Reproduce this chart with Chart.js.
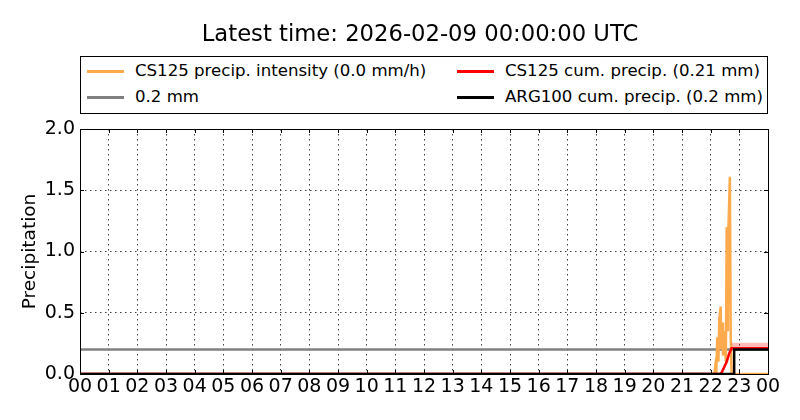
<!DOCTYPE html>
<html>
<head>
<meta charset="utf-8">
<script src="https://cdn.jsdelivr.net/npm/chart.js@4.4.1/dist/chart.umd.min.js"></script>
<style>
    body { margin: 0; background: #fff; font-family: "DejaVu Sans", sans-serif; }
    #wrap { position: relative; width: 800px; height: 420px; }
    #chart { position: absolute; left: 0; top: 0; }
    #title { position: absolute; left: 0; width: 840px; top: 20px; text-align: center; font-size: 22.7px; color: #000; }
    #legend { position: absolute; left: 80px; top: 56px; width: 686px; height: 56px; border: 1px solid #000; background: #fff; font-size: 16.6px; }
    .item { position: absolute; height: 20px; line-height: 20px; white-space: nowrap; }
    .item span.sw { position: absolute; left: 0; top: 9px; width: 37px; height: 3px; }
    .item span.tx { position: absolute; left: 48px; top: 0; }
</style>
</head>
<body>
<div id="wrap">
    <canvas id="chart" width="800" height="420"></canvas>
    <div id="title">Latest time: 2026-02-09 00:00:00 UTC</div>
    <div id="legend"></div>
</div>
<script>
// Tick labels (hours of day)
const xTickLabels = ['00', '01', '02', '03', '04', '05', '06', '07', '08', '09', '10', '11',
    '12', '13', '14', '15', '16', '17', '18', '19', '20', '21', '22', '23', '00'];
const yTicks = [0, 0.5, 1.0, 1.5, 2.0];

// CS125 precip. intensity (mm/h), time in hours
const intensityTime = [0, 22.13, 22.17, 22.2, 22.23, 22.27, 22.3, 22.35, 22.37, 22.4, 22.43, 22.47, 22.5, 22.53, 22.56, 22.6, 22.62, 22.67, 22.7, 22.73, 24];
const intensityValue = [0, 0, 0.08, 0.05, 0.3, 0.1, 0.45, 0.55, 0.2, 0.42, 0.15, 0.35, 0.25, 0.1, 1.2, 0.35, 1.19, 1.61, 0.3, 0, 0];

// CS125 cumulative precip. (mm)
const cumTime = [0, 22.32, 22.38, 22.44, 22.56, 22.65, 22.73, 24];
const cumValue = [0, 0, 0.01, 0.04, 0.1, 0.17, 0.21, 0.21];

// shaded band above the CS125 cumulative value
const bandTime = [22.73, 24];
const bandUpper = [0.255, 0.255];
const bandLower = [0.21, 0.21];

// ARG100 cumulative precip. (mm)
const argTime = [0, 22.82, 22.82, 24];
const argValue = [0, 0, 0.2, 0.2];

// 0.2 mm reference line
const refTime = [0, 24];
const refValue = [0.2, 0.2];

const legendItems = [
    { text: 'CS125 precip. intensity (0.0 mm/h)', color: 'rgb(255,170,77)', col: 0, row: 0 },
    { text: '0.2 mm', color: 'rgb(128,128,128)', col: 0, row: 1 },
    { text: 'CS125 cum. precip. (0.21 mm)', color: 'rgb(255,0,0)', col: 1, row: 0 },
    { text: 'ARG100 cum. precip. (0.2 mm)', color: 'rgb(0,0,0)', col: 1, row: 1 }
];

function toPoints(xs, ys) {
    return xs.map((x, i) => ({ x: x, y: ys[i] }));
}

// build legend
const legendEl = document.getElementById('legend');
legendItems.forEach(item => {
    const div = document.createElement('div');
    div.className = 'item';
    div.style.left = (item.col === 0 ? 6 : 376) + 'px';
    div.style.top = (item.row === 0 ? 4 : 30) + 'px';
    div.innerHTML = '<span class="sw" style="background:' + item.color + '"></span><span class="tx"></span>';
    div.querySelector('.tx').textContent = item.text;
    legendEl.appendChild(div);
});

// inward tick marks and full frame, like the classic matplotlib look
const framePlugin = {
    id: 'frame',
    afterDraw(chart) {
        const ctx = chart.ctx;
        const a = chart.chartArea;
        const xs = chart.scales.x;
        const ys = chart.scales.y;
        ctx.save();
        ctx.strokeStyle = '#000';
        ctx.lineWidth = 1;
        ctx.beginPath();
        xs.ticks.forEach(t => {
            const px = Math.round(xs.getPixelForValue(t.value)) + 0.5;
            ctx.moveTo(px, a.bottom); ctx.lineTo(px, a.bottom - 4);
            ctx.moveTo(px, a.top); ctx.lineTo(px, a.top + 4);
        });
        ys.ticks.forEach(t => {
            const py = Math.round(ys.getPixelForValue(t.value)) + 0.5;
            ctx.moveTo(a.left, py); ctx.lineTo(a.left + 4, py);
            ctx.moveTo(a.right, py); ctx.lineTo(a.right - 4, py);
        });
        ctx.stroke();
        ctx.strokeRect(Math.round(a.left) + 0.5, Math.round(a.top) + 0.5,
            Math.round(a.right - a.left), Math.round(a.bottom - a.top));
        ctx.restore();
    }
};

const lineBase = { pointRadius: 0, borderWidth: 2.5, fill: false, tension: 0 };

new Chart(document.getElementById('chart'), {
    type: 'line',
    data: {
        datasets: [
            Object.assign({}, lineBase, { label: 'ARG100', data: toPoints(argTime, argValue), borderColor: '#000', order: 0 }),
            Object.assign({}, lineBase, { label: 'CS125 cum', data: toPoints(cumTime, cumValue), borderColor: 'rgb(255,0,0)', order: 1 }),
            Object.assign({}, lineBase, { label: 'band up', data: toPoints(bandTime, bandUpper), borderWidth: 0, borderColor: 'rgba(0,0,0,0)', backgroundColor: 'rgba(255,0,0,0.27)', fill: '+1', order: 2 }),
            Object.assign({}, lineBase, { label: 'band low', data: toPoints(bandTime, bandLower), borderWidth: 0, borderColor: 'rgba(0,0,0,0)', order: 2 }),
            Object.assign({}, lineBase, { label: 'CS125 intensity', data: toPoints(intensityTime, intensityValue), borderColor: 'rgb(255,170,77)', order: 3 }),
            Object.assign({}, lineBase, { label: '0.2 mm', data: toPoints(refTime, refValue), borderColor: 'rgb(128,128,128)', order: 4 })
        ]
    },
    options: {
        responsive: false,
        animation: false,
        layout: { padding: { top: 129, right: 32, left: 0, bottom: 0 } },
        plugins: {
            legend: { display: false },
            tooltip: { enabled: false }
        },
        scales: {
            x: {
                type: 'linear',
                min: 0,
                max: 24,
                afterFit(scale) { scale.height = 46; },
                afterBuildTicks(scale) {
                    scale.ticks = xTickLabels.map((l, i) => ({ value: i }));
                },
                ticks: {
                    autoSkip: false,
                    maxRotation: 0,
                    padding: 2,
                    color: '#000',
                    font: { family: 'DejaVu Sans', size: 19 },
                    callback: (v, i) => xTickLabels[i]
                },
                grid: { color: 'rgba(0,0,0,0.75)', lineWidth: 1, drawTicks: false },
                border: { display: false, dash: [1.5, 3.5] }
            },
            y: {
                min: 0,
                max: 2,
                afterFit(scale) { scale.width = 80; },
                afterBuildTicks(scale) {
                    scale.ticks = yTicks.map(v => ({ value: v }));
                },
                ticks: {
                    padding: 5,
                    color: '#000',
                    font: { family: 'DejaVu Sans', size: 19 },
                    callback: v => v.toFixed(1)
                },
                title: {
                    display: true,
                    text: 'Precipitation',
                    color: '#000',
                    font: { family: 'DejaVu Sans', size: 18.5 },
                    padding: { top: 19, bottom: 0 }
                },
                grid: { color: 'rgba(0,0,0,0.75)', lineWidth: 1, drawTicks: false },
                border: { display: false, dash: [1.5, 3.5] }
            }
        }
    },
    plugins: [framePlugin]
});
</script>
</body>
</html>
